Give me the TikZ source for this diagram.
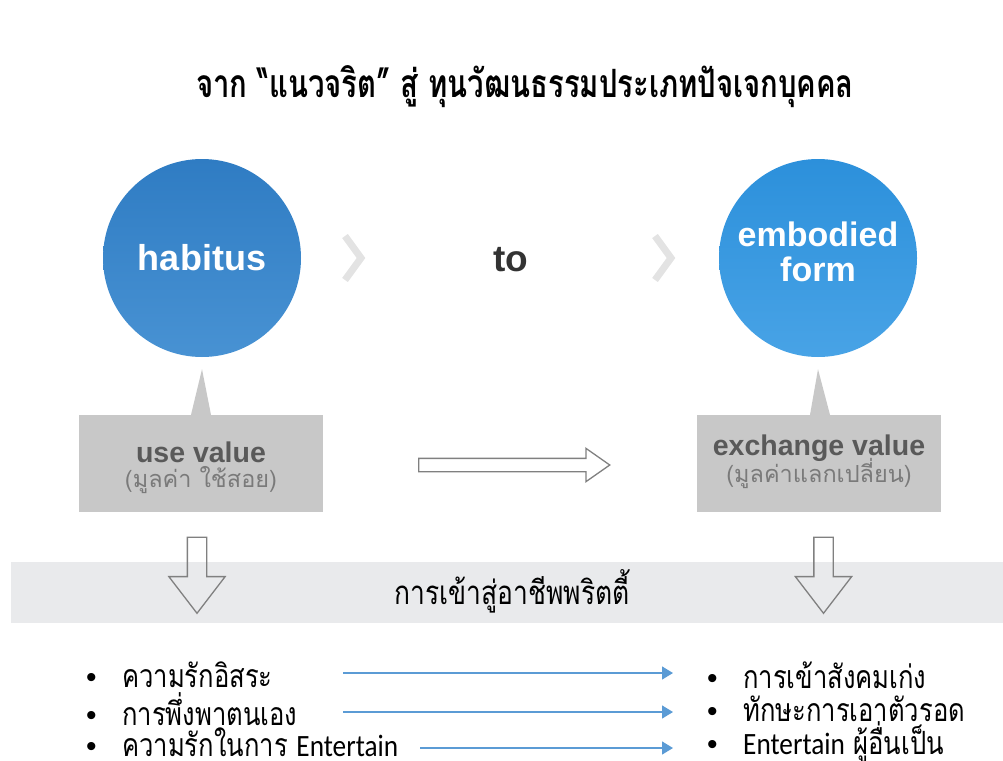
\documentclass[tikz,border=0pt]{standalone}
\usepackage{fontspec}
\setmainfont{Liberation Sans}
\newfontfamily\thaifont[Script=Thai]{Loma}
\newfontfamily\thainarrow[Script=Thai,FakeStretch=0.8]{Loma}
\newfontfamily\thaititle[Script=Thai,FakeStretch=0.75]{Loma}
\newfontfamily\carlito[FakeStretch=0.88]{Carlito}
\usetikzlibrary{positioning}
\usetikzlibrary{arrows.meta, shapes.arrows}

\definecolor{habblue}{HTML}{2F7CC3}
\definecolor{habbluelt}{HTML}{4892D3}
\definecolor{embblue}{HTML}{2C90DB}
\definecolor{embbluelt}{HTML}{48A3E6}
\definecolor{boxgrey}{HTML}{C8C8C8}
\definecolor{bandgrey}{HTML}{E9EAEC}
\definecolor{chevgrey}{HTML}{E3E3E3}
\definecolor{outlinegrey}{HTML}{808080}
\definecolor{linkblue}{HTML}{5B9BD5}
\definecolor{valtext}{HTML}{595959}
\definecolor{valthai}{HTML}{7A7A7A}
\definecolor{totext}{HTML}{333333}

\newcommand{\bul}{\makebox[36pt][l]{\normalfont\fontsize{30}{30}\selectfont •}}
\newcommand{\ent}{{\carlito\fontsize{31}{32}\selectfont Entertain}}

\begin{document}
\begin{tikzpicture}[x=1pt,y=-1pt]

 \tikzset{bubble/.style={
 		circle,
 		minimum size=198pt,
 		inner sep=0pt
 	},
 	bubbletext/.style={text=white, align=center, inner sep=0pt},
 	valuebox/.style={fill=boxgrey, minimum width=244pt, minimum height=97pt, inner sep=0pt},
 	valtitle/.style={text=valtext, font=\bfseries\fontsize{28.5}{30}\selectfont, inner sep=0pt},
 	valthai/.style={text=valthai, font=\thaifont\fontsize{23.5}{26}\selectfont, inner sep=0pt},
 	hollow/.style={single arrow, draw=outlinegrey, line width=1.3pt, inner xsep=0pt, single arrow head indent=0pt},
 	chevron/.style={draw=chevgrey, line width=7pt, line join=miter},
 	item/.style={anchor=west, inner sep=0pt, font=\thainarrow\fontsize{32}{34}\selectfont},
 	link/.style={draw=linkblue, line width=1.3pt, -{Triangle[length=11pt, width=13pt]}}
 }

 \useasboundingbox (0,0) rectangle (1003,760);

 % title
 \node[font=\thaititle\bfseries\fontsize{39}{40}\selectfont] (title) at (525,87)
 	{จาก “แนวจริต” สู่ ทุนวัฒนธรรมประเภทปัจเจกบุคคล};

 % circles
 \node[bubble, top color=habblue, bottom color=habbluelt] (habitus) at (202,258) {};
 \node[bubble, top color=embblue, bottom color=embbluelt] (embodied) at (818,258) {};
 \node[bubbletext, font=\bfseries\fontsize{36}{36}\selectfont] (habtxt) at (habitus.center) {habitus};
 \node[bubbletext, font=\bfseries\fontsize{34}{35}\selectfont] (embtxt) at (818,252) {embodied\\form};
 \node[text=totext, font=\bfseries\fontsize{37}{37}\selectfont] (to) at (511,260) {to};

 \draw[chevron] (345,236) -- (361,258) -- (345,280);
 \draw[chevron] (655,236) -- (671,258) -- (655,280);

 % value boxes
 \node[valuebox] (usebox) at (201,463.5) {};
 \node[valuebox] (exbox) at (819,463.5) {};
 \fill[boxgrey] ([xshift=-10pt]usebox.north) -- ([yshift=-12pt]habitus.south) -- ([xshift=10pt]usebox.north) -- cycle;
 \fill[boxgrey] ([xshift=-9pt]exbox.north) -- ([yshift=-12pt]embodied.south) -- ([xshift=11pt]exbox.north) -- cycle;

 \node[valtitle, anchor=base] (usetxt) at (201,462) {use value};
 \node[valthai, anchor=base] (usethai) at (201,487) {(มูลค่า ใช้สอย)};
 \node[valtitle, anchor=base] (extxt) at (819,455) {exchange value};
 \node[valthai, anchor=base] (exthai) at (819,482) {(มูลค่าแลกเปลี่ยน)};

 \node[hollow, inner ysep=6pt, minimum height=191pt, minimum width=32pt,
 	single arrow head extend=10pt, single arrow tip angle=70] (midarrow) at (509.5,465) {};

 % band
 \node[fill=bandgrey, minimum width=992pt, minimum height=61pt, inner sep=0pt] (band) at (507,592.5) {};
 \node[font=\thainarrow\fontsize{33}{34}\selectfont] (career) at (512,591) {การเข้าสู่อาชีพพริตตี้};

 \node[hollow, rotate=-90, inner ysep=9pt, minimum height=76pt, minimum width=55pt,
 	single arrow head extend=18.5pt, single arrow tip angle=75] (downl) at (197,569) {};
 \node[hollow, rotate=-90, inner ysep=9pt, minimum height=76pt, minimum width=55pt,
 	single arrow head extend=18.5pt, single arrow tip angle=75] (downr) at (823.5,569) {};

 % items
 \node[item] (l1) at (86,675) {\bul ความรักอิสระ};
 \node[item] (l2) at (86,709) {\bul การพึ่งพาตนเอง};
 \node[item] (l3) at (86,742) {\bul ความรักในการ \ent};
 \node[item] (r1) at (707,675) {\bul การเข้าสังคมเก่ง};
 \node[item] (r2) at (707,709) {\bul ทักษะการเอาตัวรอด};
 \node[item] (r3) at (707,742) {\bul \ent\ ผู้อื่นเป็น};

 \coordinate (s1) at (343,673);
 \coordinate (s2) at (343,712);
 \coordinate (s3) at (420,748);
 \draw[link, shorten >=34pt] (s1) -- (s1 -| r1.west);
 \draw[link, shorten >=34pt] (s2) -- (s2 -| r2.west);
 \draw[link, shorten >=34pt] (s3) -- (s3 -| r3.west);

\end{tikzpicture}
\end{document}
